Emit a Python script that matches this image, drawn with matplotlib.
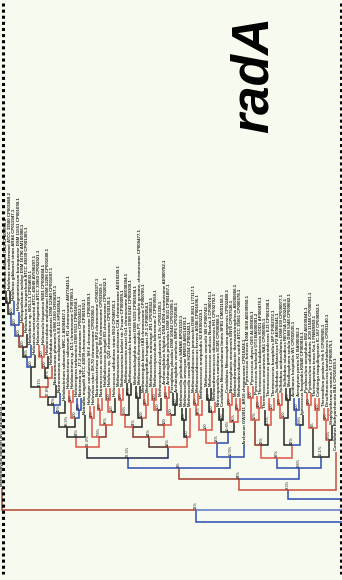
import matplotlib
matplotlib.use('Agg')
import matplotlib.pyplot as plt
from matplotlib.collections import LineCollection
from matplotlib.colors import LinearSegmentedColormap

# --- data -------------------------------------------------------------------
TITLE = "radA"

TIP_NAMES = [
    "Methanopyrus kandleri AV19 AE009439.1",
    "Haloferax volcanii DS2 CP001956.1",
    "Haloferax mediterranei ATCC 33500 CP001868.2",
    "Haloferax gibbonsii strain ARA6 CP011947.1",
    "Halogeometricum borinquense DSM 11551 CP001690.1",
    "Haloquadratum walsbyi DSM 16790 AM180088.1",
    "Halorubrum lacusprofundi ATCC 49239 CP001365.1",
    "Halorubrum sp. BOL3-1 CP034692.1",
    "Haloarcula marismortui ATCC 43049 AY596297.1",
    "Haloarcula hispanica ATCC 33960 CP002921.1",
    "Haloarcula hispanica N601 CP006884.1",
    "Halomicrobium mukohataei DSM 12286 CP001688.1",
    "Halorhabdus utahensis DSM 12940 CP001687.1",
    "Natronomonas pharaonis DSM 2160 CR936257.1",
    "Natronomonas moolapensis 8.8.11 HF582854.1",
    "Halobacterium salinarum NRC-1 AE004437.1",
    "Halobacterium salinarum R1 chromosome AM774415.1",
    "Halobacterium sp. DL1 chromosome CP007060.1",
    "Haloterrigena turkmenica DSM 5511 CP001860.1",
    "Natrinema sp. J7-2 chromosome CP003412.1",
    "Natrialba magadii ATCC 43099 chromosome CP001932.1",
    "Halopiger xanaduensis SH-6 chromosome CP002839.1",
    "Halovivax ruber XH-70 chromosome CP003050.1",
    "Natronobacterium gregoryi SP2 chromosome CP003377.1",
    "Natronococcus occultus SP4 chromosome CP003929.1",
    "Halalkalicoccus jeotgali B3 chromosome CP002062.1",
    "Haloferax sp. Q22 chromosome CP030139.1",
    "Halococcus salifodinae strain BG2 CP048738.1",
    "Methanosarcina acetivorans C2A chromosome AE010299.1",
    "Methanosarcina barkeri str. Fusaro CP000099.1",
    "Methanosarcina mazei Go1 chromosome AE008384.1",
    "Methanococcoides burtonii DSM 6242 CP000300.1",
    "Methanohalophilus mahii DSM 5219 CP001994.1",
    "Methanosaeta thermophila PT, complete genome, chromosome CP000477.1",
    "Methanoregula boonei 6A8 chromosome CP000780.1",
    "Methanospirillum hungatei JF-1 CP000254.1",
    "Methanoculleus marisnigri JR1 CP000562.1",
    "Methanocorpusculum labreanum Z CP000559.1",
    "Methanosphaerula palustris E1-9c CP001338.1",
    "Archaeoglobus fulgidus DSM 4304 chromosome AE000782.1",
    "Archaeoglobus profundus DSM 5631 CP001857.1",
    "Ferroglobus placidus DSM 10642 CP001899.1",
    "Archaeoglobus veneficus SNP6 CP002588.1",
    "Methanocella paludicola SANAE AP011532.1",
    "Methanocella arvoryzae MRE50 AM114193.1",
    "Methanocella conradii HZ254 CP003243.1",
    "Methanocaldococcus jannaschii DSM 2661 L77117.1",
    "Methanocaldococcus fervens AG86 CP001696.1",
    "Methanococcus maripaludis S2 BX950229.1",
    "Methanococcus vannielii SB CP000742.1",
    "Methanococcus aeolicus Nankai-3 CP000743.1",
    "Methanothermococcus okinawensis IH1 CP002792.1",
    "Nitrosopumilus maritimus SCM1 CP000866.1",
    "Candidatus Nitrosoarchaeum limnia SFB1 CM001158.1",
    "Candidatus Nitrososphaera gargensis CP002408.1",
    "Nitrososphaera viennensis EN76 CP007536.1",
    "Methanothermobacter thermautotrophicus AE000666.1",
    "Methanobrevibacter smithii ATCC 35061 CP000678.1",
    "Archaeon GW2011_AR10 chromosome CP010424.1",
    "Pyrococcus furiosus DSM 3638 AE009950.1",
    "Pyrococcus abyssi GE5 AL096836.1",
    "Pyrococcus horikoshii OT3 BA000001.2",
    "Thermococcus kodakarensis KOD1 AP006878.1",
    "Thermococcus onnurineus NA1 CP000855.1",
    "Thermococcus gammatolerans EJ3 CP001398.1",
    "Thermococcus barophilus MP CP002372.1",
    "Sulfolobus solfataricus P2 AE006641.1",
    "Sulfolobus acidocaldarius DSM 639 CP000077.1",
    "Sulfolobus islandicus REY15A CP002425.1",
    "Metallosphaera sedula DSM 5348 CP000682.1",
    "Acidianus hospitalis W1 CP002535.1",
    "Aeropyrum pernix K1 BA000002.3",
    "Ignicoccus hospitalis KIN4/I CP000816.1",
    "Pyrobaculum aerophilum IM2 AE009441.1",
    "Pyrobaculum calidifontis JCM 11548 CP000561.1",
    "Thermoproteus tenax Kra 1 FN869859.1",
    "Caldivirga maquilingensis IC-167 CP000852.1",
    "Thermofilum pendens Hrk 5 CP000505.1",
    "Desulfurococcus kamchatkensis CP001140.1",
    "Staphylothermus marinus F1 CP000575.1",
    "Candidatus Bathyarchaeota BA1 CP016819.1",
]

# collapsed clades lying outside the frame (number of tip slots they take)
COLLAPSED = {"H1": 74, "H2": 10}

# tree pieces: tN = tip N, label after ")" = support, ":len", "[v]" = branch colour value
LADDER = ("((((((((t1:12[.5],t2:12[.5])100:11[.5],t3:13[.2])100:11[.2],t4:13[.2])100:11[.2],"
          "t5:13[.75])100:11[.75],t6:13[.5])100:10[.5],t7:12[.2])98%:10[.2],t8:12[.5])100:20[.5],"
          "(((t9:12[.95],t10:12[.95])100:11[.95],t11:12[.5])100:10[.5],t12:12[.9])97%:9[.9])9.1%:10[.9]")
X_CLADE = "((t16:12[.95],t17:12[.95])100:16[.95],(t18:12[.2],t19:12[.2])100:8[.2])100:9[.5]"
F1 = ("(((((" + LADDER + ",t13:12[.5])37.8%:8[.5],t14:12[.2])40%:8[.2],t15:12[.5])49%:14[.5],"
      + X_CLADE + ")96.5%:10[.5],t20:22[.5])64%:10[.95]")
F2 = ("((t21:12[.95],t22:12[.95])100:19[.95],((t23:12[.95],t24:12[.95])100:15[.95],"
      "((t25:12[.95],t26:12[.95])100:12[.95],t27:14[.5])100:13[.95])98%:12[.75])7.8%:10[.95]")
G1A = ("(((t28:12[.95],t29:12[.95])100:15[.95],(t30:12[.5],t31:12[.5])98%:20[.5])6.8%:12[.95],"
       "((t32:12[.5],t33:12[.5])100:20[.5],(t34:12[.95],t35:12[.95])100:13[.95])100:9[.5])34%:10[.75]")
G1B = ("(((t36:12[.95],t37:12[.95])100:10[.95],t38:12[.5])100:15[.75],((t39:12[.95],t40:12[.95])100:17[.95],"
       "(t41:12[.5],t42:12[.5])100:10[.5])100:10[.95])100:12[.95]")
G2 = "((t43:12[.5],t44:12[.5])100:17[.5],t45:29[.95])100:10[.95]"
DA = ("(((t46:12[.95],t47:12[.95])100:10[.95],t48:15[.95])98%:15[.95],((t49:12[.5],t50:12[.5])100:12[.5],"
      "t51:10[.95])100:18[.95])100:13[.95]")
DB = ("((t52:12[.5],t53:12[.5])100:12[.5],((t54:12[.95],t55:12[.95])100:17[.95],"
      "(t56:12[.95],t57:12[.95])100:12[.95])96%:10[.5])10.6%:11[.2]")
E1A = ("(((t59:12[.95],t60:12[.95])100:22[.95],(t61:12[.95],t62:12[.95])100:12[.95])10%:25[.75],"
       "(t63:15[.5],(t64:12[.95],t65:12[.95])100:15[.95])5.3%:20[.5])43%:13[.95]")
E1B = ("(((t66:12[.95],t67:12[.95])100:13[.95],(t68:12[.5],t69:12[.5])100:18[.5])100:27[.5],"
       "((t70:12[.2],t71:12[.2])100:15[.2],t72:10[.5])2.8%:20[.2])43%:13[.95]")
E2 = ("(((t73:12[.95],t74:12[.95])100:23[.95],(t75:12[.95],t76:12[.95])100:18[.95])6%:29[.5],"
      "((t77:12[.95],t78:12[.95])100:20[.95],t79:15[.5])2.6%:17[.5])16.1%:11[.2]")

F = "(" + F1 + "," + F2 + ")62.3%:11[.45]"
G = "((" + G1A + "," + G1B + ")44%:10[.6]," + G2 + ")18%:11[.4]"
C = "(" + F + "," + G + ")22.5%:10[.2]"
D = "((" + DA + "," + DB + ")18%:14[.2],t58:12[.2])10.5%:11[.2]"
E = "((" + E1A + "," + E1B + ")89%:10[.2]," + E2 + ")8.8%:11[.2]"
N84 = "((" + C + "," + D + ")8%:11[.8]," + E + ")84%:11[.9]"
TREE = "((t0:22[.85],((" + N84 + ",t80:38[.9])9.3%:9[.2],H1:29[.2]):11[.08])13%:12[.2],H2:22[.2]);"

# branch colour scale: blue -> black -> red
EDGE_CMAP = LinearSegmentedColormap.from_list("edge", [
    (0.0, "#7d8fd8"), (0.2, "#2d4bb0"), (0.4, "#1f2a55"),
    (0.5, "#262626"), (0.75, "#8c3424"), (1.0, "#ef5d4e")])


def parse_newick(text):
    pos = 0

    def node():
        nonlocal pos
        kids = []
        if text[pos] == '(':
            pos += 1
            kids.append(node())
            while text[pos] == ',':
                pos += 1
                kids.append(node())
            pos += 1
        start = pos
        while text[pos] not in ':,)[;':
            pos += 1
        label = text[start:pos]
        length = 0.0
        if text[pos] == ':':
            pos += 1
            start = pos
            while text[pos] not in ',)[;':
                pos += 1
            length = float(text[start:pos])
        value = 0.5
        if text[pos] == '[':
            end = text.index(']', pos)
            value = float(text[pos + 1:end])
            pos = end + 1
        return {'label': label, 'len': length, 'val': value, 'kids': kids}

    return node()


def layout(nd, parent_depth, slot):
    nd['depth'] = parent_depth + nd['len']
    if not nd['kids']:
        width = COLLAPSED.get(nd['label'], 1)
        nd['x'] = slot[0] + (width - 1) / 2
        slot[0] += width
        return
    for k in nd['kids']:
        layout(k, nd['depth'], slot)
    nd['x'] = (nd['kids'][0]['x'] + nd['kids'][-1]['x']) / 2


root = parse_newick(TREE)
layout(root, 0.0, [0])

fig = plt.figure(figsize=(3.42, 5.80), dpi=100, facecolor='#f7faee')
ax = fig.add_axes([0, 0, 1, 1])
ax.set_facecolor('#f7faee')
# one tip slot = 4.18 px, root bar sits 522 px from the top
ax.set_xlim(-1.8 / 4.18, (342 - 1.8) / 4.18)
ax.set_ylim(-58, 522)
ax.axis('off')

paths, cols = [], []
stack = [root]
while stack:
    nd = stack.pop()
    for k in nd['kids']:
        paths.append([(nd['x'], nd['depth']), (k['x'], nd['depth']), (k['x'], k['depth'])])
        cols.append(EDGE_CMAP(k['val']))
        stack.append(k)
    if nd['kids'] and nd['label']:
        ax.text(nd['x'], nd['depth'] + 1.2, nd['label'], rotation=90, ha='center', va='bottom',
                fontsize=2.9, family='Liberation Sans', color='#111111')
    if not nd['kids'] and nd['label'].startswith('t'):
        ax.text(nd['x'], nd['depth'] + 1.5, TIP_NAMES[int(nd['label'][1:])], rotation=90,
                ha='center', va='bottom', fontsize=3.2, fontweight='bold',
                family='Liberation Sans', color='#222222')

ax.add_collection(LineCollection(paths, colors=cols, linewidths=1.1, joinstyle='miter'))

ax.text(0.743, 0.872, TITLE, transform=ax.transAxes, rotation=90, ha='center', va='center',
        fontsize=37, fontweight='bold', fontstyle='italic', family='Liberation Sans', color='black')

# dotted frame on both sides
for xf in (3 / 342, 341 / 342):
    ax.plot([xf, xf], [1 - 3 / 580, 1 - 574 / 580], transform=ax.transAxes, color='black',
            lw=2.2, linestyle=(0, (1, 1)), dash_capstyle='butt', clip_on=False)

fig.savefig('out.png', dpi=100, facecolor=fig.get_facecolor())
